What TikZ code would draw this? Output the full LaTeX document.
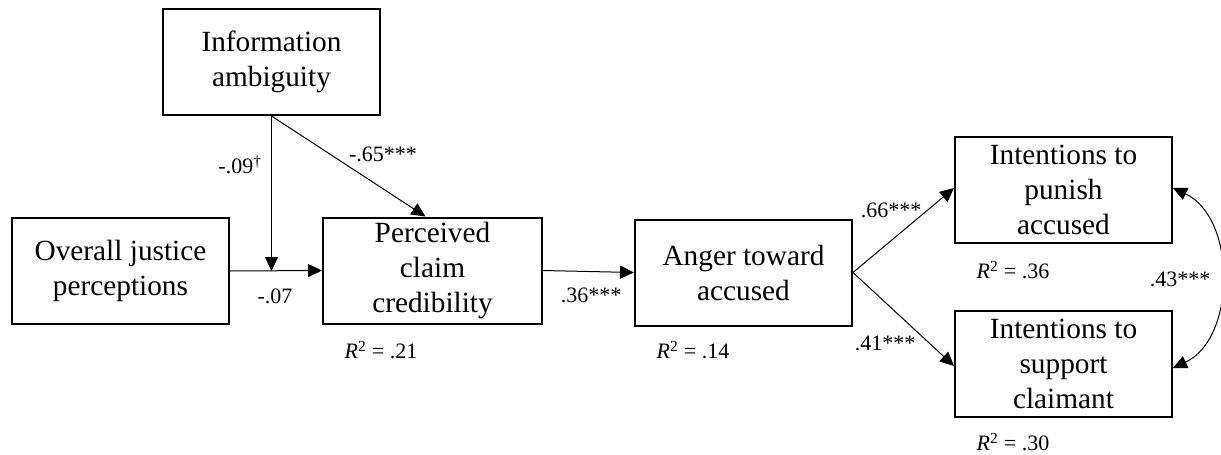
\documentclass[tikz,border=0pt]{standalone}
\usepackage{fontspec}
\setmainfont{Liberation Serif}
\usetikzlibrary{arrows.meta}
\begin{document}
\begin{tikzpicture}[x=1pt,y=-1pt,
  box/.style={draw, line width=2pt, minimum width=217pt, minimum height=106pt,
    inner sep=0pt, align=center, font=\fontsize{29.3}{35}\selectfont},
  link/.style={line width=1pt, -{Triangle[length=14pt,width=13pt]}},
  coef/.style={inner sep=0pt, font=\fontsize{22}{26}\selectfont},
]
\useasboundingbox (0,0) rectangle (1221,455);

% variables
\node[box] (info) at (271.5,62) {Information\\ambiguity};
\node[box] (oj) at (120.5,271) {Overall justice\\perceptions};
\node[box, minimum width=219pt] (perc) at (432.5,270.5) {Perceived\\claim\\credibility};
\node[box] (anger) at (743.5,272.5) {Anger toward\\accused};
\node[box] (pun) at (1063.5,190) {Intentions to\\punish\\accused};
\node[box] (sup) at (1063.5,364) {Intentions to\\support\\claimant};

% paths
\coordinate (mod) at (info.south |- oj.east);
\draw[link] (oj.east) -- (perc.west);
\draw[link] (info.south) -- (mod);
\draw[link] (info.south) -- ([xshift=-7pt]perc.north);
\draw[link] (perc.east) -- (anger.west);
\draw[link] (anger.east) -- ([yshift=2pt]pun.west);
\draw[link] (anger.east) -- ([yshift=-2pt]sup.west);
\draw[line width=1pt, {Triangle[length=14pt,width=13pt]}-{Triangle[length=14pt,width=13pt]}]
  ([yshift=2pt]pun.east) to[bend left=65] ([yshift=-4pt]sup.east);

% coefficients
\node[coef] (c1) at (240,165) {-.09\textsuperscript{†}};
\node[coef] (c2) at (383,154) {-.65***};
\node[coef] (c3) at (275,296) {-.07};
\node[coef] (c4) at (591,295) {.36***};
\node[coef] (c5) at (891,210) {.66***};
\node[coef] (c6) at (885,343) {.41***};
\node[coef] (c7) at (1180,279) {.43***};

% explained variance
\node[coef] (r1) at (381,350) {\textit{R}\textsuperscript{2} = .21};
\node[coef] (r2) at (693,350) {\textit{R}\textsuperscript{2} = .14};
\node[coef] (r3) at (1013,270) {\textit{R}\textsuperscript{2} = .36};
\node[coef] (r4) at (1013,442) {\textit{R}\textsuperscript{2} = .30};
\end{tikzpicture}
\end{document}
